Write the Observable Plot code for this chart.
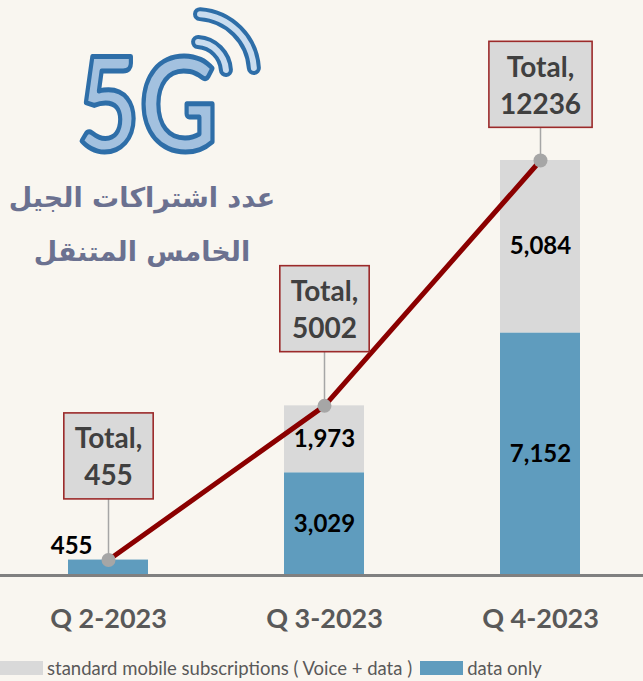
<!DOCTYPE html>
<html>
<head>
<meta charset="utf-8">
<script src="https://cdn.jsdelivr.net/npm/d3@7"></script>
<script src="https://cdn.jsdelivr.net/npm/@observablehq/plot@0.6"></script>
<style>
  html, body { margin: 0; padding: 0; background: #f9f6f0; width: 643px; height: 681px; overflow: hidden; }
  #wrap { position: relative; width: 643px; height: 681px; }
  #chart svg { display: block; }
  #title { position: absolute; left: 0; top: 171px; width: 284px; text-align: center; direction: rtl;
           font-family: "DejaVu Sans", sans-serif; font-weight: bold; color: #6b7190; font-size: 27px; line-height: 54px; }
  #logo { position: absolute; left: 0; top: 0; overflow: visible; }
  #legend { position: absolute; left: 0; top: 657px; width: 643px; height: 22px; display: flex; align-items: center;
            white-space: nowrap; overflow: hidden; font-family: Lato, sans-serif; font-size: 18.5px; color: #595959; }
  .sw { display: inline-block; width: 43px; height: 14px; margin-right: 4px; flex: none; }
</style>
</head>
<body>
<div id="wrap">
  <div id="chart"></div>
  <svg id="logo" width="300" height="200"></svg>
  <div id="title">عدد اشتراكات الجيل<br>الخامس المتنقل</div>
  <div id="legend"></div>
</div>
<script>
// ---- data ----
const quarters = ["Q 2-2023", "Q 3-2023", "Q 4-2023"];
const seriesNames = ["data only", "standard mobile subscriptions ( Voice + data )"];
const dataOnly = [455, 3029, 7152];
const standardMobile = [0, 1973, 5084];
const totals = [455, 5002, 12236];

// ---- layout / style ----
const W = 643, H = 655, MT = 160, MB = 80;
const blue = "#5f9cbe", gray = "#d9d9d9";
const calloutLift = [62, 55, 34]; // px between point and callout box
const yMax = 12236;
const k = (H - MT - MB) / yMax; // px per unit

const segments = [];
quarters.forEach((q, i) => segments.push({quarter: q, series: seriesNames[0], value: dataOnly[i]}));
quarters.forEach((q, i) => segments.push({quarter: q, series: seriesNames[1], value: standardMobile[i]}));
const totalRows = quarters.map((q, i) => ({quarter: q, total: totals[i], lift: calloutLift[i]}));
const fmt = d3.format(",");

const plot = Plot.plot({
  width: W, height: H,
  marginTop: MT, marginBottom: MB, marginLeft: 0, marginRight: 0,
  style: {fontFamily: "Lato, sans-serif", background: "transparent", overflow: "visible"},
  x: {domain: quarters, range: [0, 648], paddingInner: 0.63, paddingOuter: 0.315, align: 0.5},
  y: {domain: [0, yMax], axis: null},
  color: {domain: seriesNames, range: [blue, gray]},
  marks: [
    Plot.barY(segments, {x: "quarter", y: "value", fill: "series"}),
    Plot.ruleY([0], {stroke: "#808080", strokeWidth: 3}),
    Plot.axisX({tickSize: 0, tickPadding: 33, fontSize: 27, fontWeight: "bold", fill: "#595959", label: null}),
    Plot.text(segments.filter(d => d.value >= 1000), Plot.stackY({
      x: "quarter", y: "value", z: "series", text: d => fmt(d.value),
      fontSize: 24, fontWeight: "bold", fill: "#000"
    })),
    Plot.text(segments.filter(d => d.value > 0 && d.value < 1000), {
      x: "quarter", y: "value", text: d => fmt(d.value),
      textAnchor: "end", dx: -16, dy: -14, fontSize: 24, fontWeight: "bold", fill: "#000"
    }),
    Plot.ruleX(totalRows, {x: "quarter", y1: "total", y2: d => d.total + d.lift / k, stroke: "#a6a6a6", strokeWidth: 1.5}),
    Plot.line(totalRows, {x: "quarter", y: "total", stroke: "#8b0000", strokeWidth: 5}),
    Plot.dot(totalRows, {x: "quarter", y: "total", r: 7, fill: "#a6a6a6"}),
    Plot.text(totalRows, {
      x: "quarter", y: d => d.total + (d.lift + 43) / k,
      text: d => `Total,\n${d.total}`, lineHeight: 1.32,
      fontSize: 28, fontWeight: "bold", fill: "#404040"
    })
  ]
});
document.getElementById("chart").appendChild(plot);

// callout boxes behind the total labels
const calloutTexts = Array.from(plot.querySelectorAll("text")).filter(t => t.textContent.startsWith("Total,"));
calloutTexts.forEach(t => {
  const b = t.getBBox();
  const pad = 11, cy = b.y + b.height / 2;
  const r = document.createElementNS("http://www.w3.org/2000/svg", "rect");
  r.setAttribute("x", b.x - pad);
  r.setAttribute("y", cy - 43);
  r.setAttribute("width", b.width + 2 * pad);
  r.setAttribute("height", 86);
  if (t.getAttribute("transform")) r.setAttribute("transform", t.getAttribute("transform"));
  r.setAttribute("fill", gray);
  r.setAttribute("stroke", "#9c2a2a");
  r.setAttribute("stroke-width", 1.6);
  t.parentNode.insertBefore(r, t);
});

// logo
const logo = d3.select("#logo");
const arc = (cx, cy, r, a0, a1) => {
  const p = d3.path();
  p.arc(cx, cy, r, a0 * Math.PI / 180, a1 * Math.PI / 180);
  return p.toString();
};
[58, 30].forEach(r => {
  const dpath = arc(196, 72, r, -86, -4);
  logo.append("path").attr("d", dpath).attr("fill", "none").attr("stroke", "#2e6ea8").attr("stroke-width", 14).attr("stroke-linecap", "round");
  logo.append("path").attr("d", dpath).attr("fill", "none").attr("stroke", "#c9dcef").attr("stroke-width", 6).attr("stroke-linecap", "round");
});
logo.append("text").attr("x", 77).attr("y", 151).text("5G")
  .attr("font-family", "Lato, sans-serif").attr("font-size", 130).attr("font-weight", 700)
  .attr("textLength", 141).attr("lengthAdjust", "spacingAndGlyphs")
  .attr("fill", "#a3c1df").attr("stroke", "#2e6ea8").attr("stroke-width", 5).attr("stroke-linejoin", "round");

// legend
const legend = d3.select("#legend");
[[gray, seriesNames[1]], [blue, seriesNames[0]]].forEach(([c, name], i) => {
  legend.append("span").attr("class", "sw").style("background", c).style("margin-left", i ? "8px" : "0px");
  legend.append("span").text(name);
});
</script>
</body>
</html>
